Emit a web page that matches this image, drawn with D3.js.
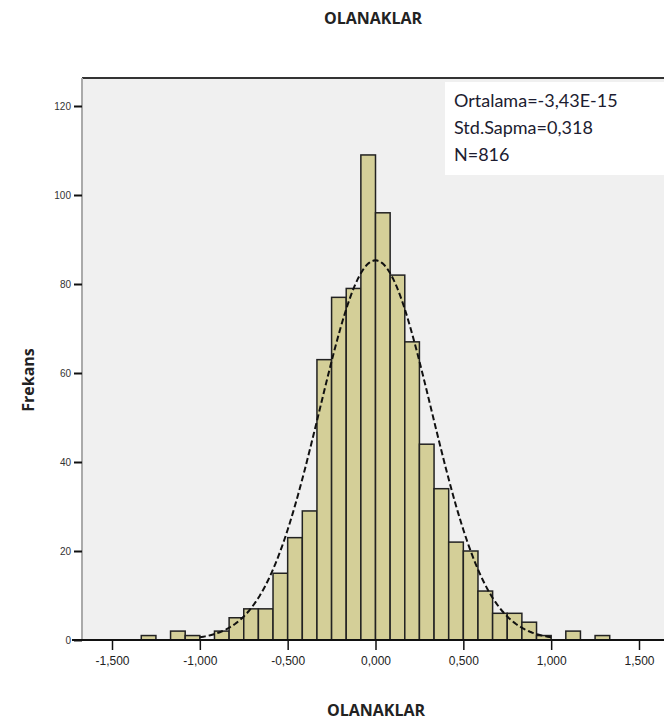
<!DOCTYPE html>
<html>
<head>
<meta charset="utf-8">
<script src="https://cdn.jsdelivr.net/npm/d3@7"></script>
<style>
body { margin: 0; background: #fff; }
svg { display: block; }
</style>
</head>
<body>
<div id="chart"></div>
<script>
// histogram of OLANAKLAR, bins of width 1/12
var binStart = -16;   // first bin index (bin k covers k/12 .. (k+1)/12)
var counts = [1, 0, 2, 1, 0, 2, 5, 7, 7, 15, 23, 29, 63, 77, 79, 109,
              96, 82, 67, 44, 34, 22, 20, 11, 6, 6, 4, 1, 0, 2, 0, 1];
var binWidth = 1 / 12;
var stats = { mean: -3.43e-15, sd: 0.318, n: 816 };
var statLines = ["Ortalama=-3,43E-15", "Std.Sapma=0,318", "N=816"];
var xTicks = [-1.5, -1.0, -0.5, 0, 0.5, 1.0, 1.5];
var yTicks = [0, 20, 40, 60, 80, 100, 120];

var W = 664, H = 725;
var svg = d3.select("#chart").append("svg").attr("width", W).attr("height", H);

var x = d3.scaleLinear().domain([-1.5, 1.5]).range([112, 639]);
var y = d3.scaleLinear().domain([0, 120]).range([640, 106]);

var fmt = function(v) { return d3.format(".3f")(v).replace(".", ",").replace("−", "-"); };

// title
svg.append("text").attr("x", 373).attr("y", 24).attr("text-anchor", "middle")
  .attr("font-family", "Open Sans, sans-serif").attr("font-weight", "bold").attr("font-size", 16)
  .attr("fill", "#222").text("OLANAKLAR");

// plot background
svg.append("rect").attr("x", 82).attr("y", 78).attr("width", 600).attr("height", 562).attr("fill", "#f0f0f0");
svg.append("line").attr("x1", 82).attr("x2", 664).attr("y1", 78).attr("y2", 78).attr("stroke", "#333").attr("stroke-width", 2);
svg.append("line").attr("x1", 82).attr("x2", 82).attr("y1", 78).attr("y2", 640).attr("stroke", "#aaa").attr("stroke-width", 2);

// bars
var bins = counts.map(function(c, i) { return { x0: (binStart + i) * binWidth, c: c }; });
svg.append("g").selectAll("rect").data(bins.filter(function(d) { return d.c > 0; })).enter().append("rect")
  .attr("x", function(d) { return x(d.x0); })
  .attr("width", function(d) { return x(d.x0 + binWidth) - x(d.x0); })
  .attr("y", function(d) { return y(d.c); })
  .attr("height", function(d) { return y(0) - y(d.c); })
  .attr("fill", "#d4cf98").attr("stroke", "#222").attr("stroke-width", 1.5);

// normal curve
var curvePts = d3.range(-1.0, 1.0001, 0.01).map(function(v) {
  var z = (v - stats.mean) / stats.sd;
  return [v, stats.n * binWidth * Math.exp(-0.5 * z * z) / (stats.sd * Math.sqrt(2 * Math.PI))];
});
svg.append("path").datum(curvePts)
  .attr("d", d3.line().x(function(d) { return x(d[0]); }).y(function(d) { return y(d[1]); }))
  .attr("fill", "none").attr("stroke", "#111").attr("stroke-width", 2).attr("stroke-dasharray", "6,3");

// x axis
var xAxis = svg.append("g").attr("transform", "translate(0,640)")
  .call(d3.axisBottom(x).tickValues(xTicks).tickFormat(fmt).tickSize(10).tickPadding(6));
xAxis.select(".domain").remove();
xAxis.selectAll("line").attr("stroke", "#111").attr("stroke-width", 1.5);
xAxis.selectAll("text").attr("font-family", "Liberation Sans, sans-serif").attr("font-size", 12).attr("fill", "#222");
svg.append("line").attr("x1", 72).attr("x2", 664).attr("y1", 640).attr("y2", 640).attr("stroke", "#111").attr("stroke-width", 2);

// y axis
var yAxis = svg.append("g").attr("transform", "translate(82,0)")
  .call(d3.axisLeft(y).tickValues(yTicks).tickSize(8).tickPadding(3));
yAxis.select(".domain").remove();
yAxis.selectAll("line").attr("stroke", "#111").attr("stroke-width", 2);
yAxis.selectAll("text").attr("font-family", "Liberation Sans, sans-serif").attr("font-size", 10).attr("fill", "#333");

// axis titles
svg.append("text").attr("transform", "translate(34,380) rotate(-90)").attr("text-anchor", "middle")
  .attr("font-family", "Open Sans, sans-serif").attr("font-weight", "bold").attr("font-size", 16)
  .attr("fill", "#222").text("Frekans");
svg.append("text").attr("x", 376).attr("y", 716).attr("text-anchor", "middle")
  .attr("font-family", "Open Sans, sans-serif").attr("font-weight", "bold").attr("font-size", 16)
  .attr("fill", "#222").text("OLANAKLAR");

// stats box
svg.append("rect").attr("x", 445).attr("y", 82).attr("width", 230).attr("height", 93).attr("fill", "#fff");
svg.append("g").selectAll("text").data(statLines).enter().append("text")
  .attr("x", 454).attr("y", function(d, i) { return 107 + i * 27; })
  .attr("font-family", "Lato, sans-serif").attr("font-size", 18).attr("fill", "#1c1c30")
  .text(function(d) { return d; });
</script>
</body>
</html>
